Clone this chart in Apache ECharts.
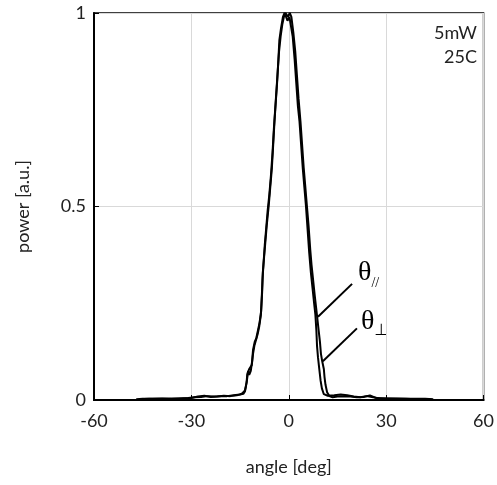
<!DOCTYPE html>
<html><head><meta charset="utf-8">
<script src="https://cdn.jsdelivr.net/npm/echarts@6/dist/echarts.min.js"></script>
<style>html,body{margin:0;padding:0;background:#fff}#c{width:497px;height:485px}</style>
</head><body><div id="c"></div>
<script>
const xTicks = [-60, -30, 0, 30, 60];
const yTicks = [0, 0.5, 1];
const thetaPar = [[-47,0.002],[-45,0.003],[-42,0.003],[-39,0.004],[-36,0.003],[-33,0.004],[-30,0.005],[-28,0.009],[-26,0.011],[-24,0.008],[-22,0.009],[-20,0.011],[-18,0.01],[-16,0.012],[-14.5,0.016],[-13.5,0.025],[-13,0.045],[-12.8,0.065],[-12.5,0.075],[-12.2,0.065],[-12,0.06],[-11.7,0.075],[-11.3,0.1],[-11,0.13],[-10.5,0.15],[-10,0.16],[-9.5,0.18],[-9,0.2],[-8.5,0.23],[-8.2,0.28],[-8,0.33],[-7.6,0.37],[-7.2,0.41],[-6.8,0.45],[-6.2,0.5],[-5.7,0.55],[-5.2,0.6],[-4.8,0.66],[-4.4,0.72],[-4,0.77],[-3.6,0.82],[-3.2,0.88],[-2.9,0.93],[-2.4,0.96],[-1.8,0.99],[-1.3,1.0],[-0.8,1.0],[-0.4,0.98],[0.2,0.99],[0.6,0.97],[1.2,0.94],[1.8,0.88],[2.3,0.82],[2.8,0.76],[3.3,0.72],[3.8,0.66],[4.3,0.6],[4.8,0.55],[5.3,0.5],[5.8,0.44],[6.3,0.38],[6.8,0.33],[7.3,0.29],[7.8,0.25],[8.2,0.22],[8.5,0.18],[8.7,0.14],[9.0,0.11],[9.4,0.08],[9.8,0.05],[10.2,0.03],[10.8,0.015],[12,0.011],[14,0.012],[16,0.014],[18,0.012],[20,0.009],[22,0.007],[24,0.01],[26,0.007],[28,0.004],[30,0.004],[33,0.003],[36,0.003],[39,0.002],[42,0.002],[44,0.002]];
const thetaPerp = [[-46,0.002],[-43,0.003],[-40,0.003],[-37,0.003],[-34,0.004],[-31,0.005],[-29,0.007],[-27,0.008],[-25,0.01],[-23,0.009],[-21,0.01],[-19,0.01],[-17,0.012],[-15,0.014],[-14,0.016],[-13.5,0.022],[-13.2,0.035],[-12.9,0.05],[-12.6,0.07],[-12.2,0.08],[-11.8,0.08],[-11.4,0.09],[-11,0.12],[-10.6,0.14],[-10.1,0.155],[-9.6,0.17],[-9.1,0.19],[-8.6,0.22],[-8.3,0.27],[-8.1,0.31],[-7.8,0.35],[-7.4,0.4],[-7,0.44],[-6.5,0.49],[-6,0.53],[-5.5,0.58],[-5,0.64],[-4.6,0.7],[-4.2,0.75],[-3.8,0.8],[-3.4,0.85],[-3,0.9],[-2.5,0.94],[-2,0.97],[-1.5,0.99],[-1,1.0],[-0.3,0.99],[0.3,1.0],[0.8,0.99],[1.4,0.95],[2,0.9],[2.5,0.84],[3,0.78],[3.6,0.72],[4.1,0.66],[4.6,0.6],[5.1,0.55],[5.6,0.5],[6.1,0.45],[6.6,0.39],[7.0,0.35],[7.5,0.31],[8.0,0.27],[8.4,0.24],[8.8,0.21],[9.2,0.18],[9.6,0.15],[9.9,0.12],[10.3,0.1],[10.8,0.08],[11.0,0.06],[11.3,0.04],[11.8,0.02],[12.5,0.01],[13.5,0.007],[15,0.009],[17,0.01],[19,0.009],[21,0.007],[23,0.008],[25,0.012],[27,0.005],[30,0.004],[33,0.004],[36,0.003],[39,0.003],[42,0.003],[44.5,0.002]];
const leaderPar = [[19.5, 0.30], [9.0, 0.215]];
const leaderPerp = [[21, 0.185], [10.5, 0.10]];

const FONT = 'Lato, "Noto Sans", sans-serif';
const chart = echarts.init(document.getElementById('c'), null, {renderer: 'canvas'});
chart.setOption({
  animation: false,
  backgroundColor: '#fff',
  grid: {left: 94, right: 11, top: 13, bottom: 85, show: true, borderColor: '#000', borderWidth: 1.5},
  xAxis: {
    type: 'value', min: -60, max: 60, interval: 30,
    name: 'angle [deg]', nameLocation: 'middle', nameGap: 58,
    nameTextStyle: {fontFamily: FONT, fontSize: 18, color: '#222'},
    axisLine: {show: true, onZero: false, lineStyle: {color: '#000', width: 2}},
    axisTick: {show: true, inside: true, length: 5, lineStyle: {color: '#000'}},
    axisLabel: {fontFamily: FONT, fontSize: 18, color: '#222', margin: 12,
      formatter: v => xTicks.includes(v) ? String(v) : ''},
    splitLine: {show: true, lineStyle: {color: '#d9d9d9', width: 1}}
  },
  yAxis: {
    type: 'value', min: 0, max: 1, interval: 0.5,
    name: 'power [a.u.]', nameLocation: 'middle', nameGap: 62, nameRotate: 90,
    nameTextStyle: {fontFamily: FONT, fontSize: 18, color: '#222'},
    axisLine: {show: true, onZero: false, lineStyle: {color: '#000', width: 2}},
    axisTick: {show: true, inside: true, length: 5, lineStyle: {color: '#000'}},
    axisLabel: {fontFamily: FONT, fontSize: 18, color: '#222', margin: 8,
      formatter: v => yTicks.includes(v) ? String(v) : ''},
    splitLine: {show: true, lineStyle: {color: '#d9d9d9', width: 1}}
  },
  series: [
    {type: 'line', name: 'θ//', data: thetaPar, showSymbol: false, symbol: 'none',
     lineStyle: {color: '#000', width: 2}, z: 3,
     markLine: {silent: true, symbol: 'none', label: {show: false},
       lineStyle: {color: '#000', width: 2, type: 'solid'},
       data: [[{coord: leaderPar[0]}, {coord: leaderPar[1]}]]}},
    {type: 'line', name: 'θ⊥', data: thetaPerp, showSymbol: false, symbol: 'none',
     lineStyle: {color: '#000', width: 2}, z: 3,
     markLine: {silent: true, symbol: 'none', label: {show: false},
       lineStyle: {color: '#000', width: 2, type: 'solid'},
       data: [[{coord: leaderPerp[0]}, {coord: leaderPerp[1]}]]}}
  ],
  graphic: [
    {type: 'text', right: 20, top: 21, style: {text: '5mW\n25C', fontFamily: FONT, fontSize: 18, lineHeight: 24, fill: '#222', textAlign: 'right'}},
    {type: 'text', left: 358, top: 259, style: {
      text: '{a|θ}{b|//}', rich: {
        a: {fontFamily: '"Liberation Serif", serif', fontSize: 28, fill: '#000', verticalAlign: 'bottom'},
        b: {fontFamily: '"Liberation Serif", serif', fontSize: 14, fill: '#000', verticalAlign: 'bottom', padding: [0,0,-3,0]}
      }}},
    {type: 'text', left: 361, top: 308, style: {
      text: '{a|θ}{b|⊥}', rich: {
        a: {fontFamily: '"Liberation Serif", serif', fontSize: 28, fill: '#000', verticalAlign: 'bottom'},
        b: {fontFamily: '"DejaVu Sans", serif', fontSize: 16, fill: '#000', verticalAlign: 'bottom', padding: [0,0,-3,0]}
      }}}
  ]
});
</script></body></html>
